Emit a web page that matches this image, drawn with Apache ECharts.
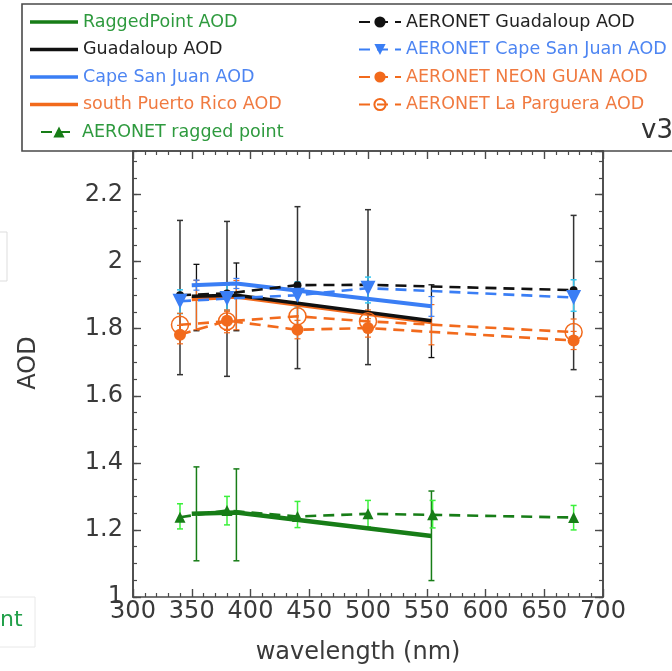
<!DOCTYPE html>
<html>
<head>
<meta charset="utf-8">
<script src="https://cdn.jsdelivr.net/npm/echarts@6/dist/echarts.min.js"></script>
<style>
  html, body { margin: 0; padding: 0; background: #fff; }
  #chart { width: 672px; height: 671px; }
</style>
</head>
<body>
<div id="chart"></div>
<script>
// wavelengths (nm)
const wlAer = [340, 380, 440, 500, 675];
const wlRagAer = [340, 380, 440, 500, 555, 675];
const wlSatLine = [350, 388, 554];
const wlSatErr = [354, 388, 554];

// satellite / model AOD (solid lines)
const raggedSat = [1.248, 1.252, 1.182];
const raggedSatLo = [1.108, 1.108, 1.049];
const raggedSatHi = [1.388, 1.382, 1.316];
const guadSat = [1.897, 1.900, 1.824];
const guadSatLo = [1.794, 1.794, 1.714];
const guadSatHi = [1.992, 1.996, 1.931];
const csjSat = [1.930, 1.935, 1.867];
const csjSatLo = [1.915, 1.920, 1.837];
const csjSatHi = [1.945, 1.950, 1.896];
const sprSat = [1.889, 1.896, 1.820];
const sprSatLo = [1.797, 1.797, 1.752];
const sprSatHi = [1.944, 1.944, 1.872];

// AERONET AOD (dashed lines)
const guadAer = [1.900, 1.905, 1.930, 1.931, 1.915];
const guadAerLo = [1.663, 1.658, 1.681, 1.693, 1.678];
const guadAerHi = [2.123, 2.120, 2.164, 2.155, 2.138];
const csjAer = [1.882, 1.890, 1.900, 1.921, 1.893];
const csjAerLo = [1.845, 1.855, 1.865, 1.877, 1.852];
const csjAerHi = [1.916, 1.930, 1.940, 1.954, 1.946];
const neonAer = [1.782, 1.824, 1.797, 1.802, 1.765];
const neonAerLo = [1.755, 1.795, 1.770, 1.775, 1.738];
const neonAerHi = [1.810, 1.852, 1.825, 1.830, 1.792];
const lpAer = [1.812, 1.822, 1.837, 1.822, 1.790];
const lpAerLo = [1.778, 1.788, 1.802, 1.788, 1.756];
const lpAerHi = [1.846, 1.856, 1.872, 1.856, 1.829];
const raggedAer = [1.238, 1.258, 1.240, 1.248, 1.245, 1.237];
const raggedAerLo = [1.203, 1.215, 1.207, 1.209, 1.206, 1.200];
const raggedAerHi = [1.278, 1.300, 1.285, 1.288, 1.288, 1.273];

const xTicks = { min: 300, max: 700, interval: 50 };
const yTicks = { min: 1, max: 2.33, interval: 0.2, minor: 0.05 };

const GREEN = '#177d17', LIME = '#3cf03c', BLACK = '#111111', BLUE = '#3a7ef5',
      CYAN = '#38c6f0', ORANGE = '#f26a1c', AXIS = '#4a4a4a', FONT = 'DejaVu Sans';

const pts = (xs, ys) => xs.map((x, i) => [x, ys[i]]);
const bars = (xs, lo, hi) => xs.map((x, i) => [x, lo[i], hi[i]]);

function errSeries(data, color, width, cap, z) {
  return {
    type: 'custom', data: data, z: z || 2, silent: true,
    encode: { x: 0, y: [1, 2] },
    renderItem: function (params, api) {
      const x = api.value(0);
      const a = api.coord([x, api.value(1)]);
      const b = api.coord([x, api.value(2)]);
      const st = { stroke: color, lineWidth: width };
      return {
        type: 'group',
        children: [
          { type: 'line', shape: { x1: a[0], y1: a[1], x2: b[0], y2: b[1] }, style: st },
          { type: 'line', shape: { x1: a[0] - cap, y1: a[1], x2: a[0] + cap, y2: a[1] }, style: st },
          { type: 'line', shape: { x1: b[0] - cap, y1: b[1], x2: b[0] + cap, y2: b[1] }, style: st }
        ]
      };
    }
  };
}

function solid(name, xs, ys, color, width, z) {
  return {
    name: name, type: 'line', data: pts(xs, ys), symbol: 'none', z: z,
    lineStyle: { color: color, width: width }, itemStyle: { color: color }
  };
}

function dashed(name, xs, ys, color, symbol, size, extra) {
  return Object.assign({
    name: name, type: 'line', data: pts(xs, ys), z: 6,
    symbol: symbol, symbolSize: size, showSymbol: true,
    lineStyle: { color: color, width: 2.6, type: [11, 7] },
    itemStyle: { color: color }
  }, extra || {});
}

const axisLine = { show: true, lineStyle: { color: AXIS, width: 1.6 } };
const label = { color: '#3a3a3a', fontSize: 24, fontFamily: FONT };

const chart = echarts.init(document.getElementById('chart'), null, { renderer: 'canvas' });
chart.setOption({
  animation: false,
  backgroundColor: '#fff',
  grid: { left: 133, right: 69, top: 151, bottom: 74 },
  xAxis: [
    {
      type: 'value', position: 'bottom', min: xTicks.min, max: xTicks.max, interval: xTicks.interval,
      name: 'wavelength (nm)', nameLocation: 'middle', nameGap: 44,
      nameTextStyle: { color: '#3a3a3a', fontSize: 24, fontFamily: FONT, padding: [0, 20, 0, 0] },
      axisLine: axisLine, splitLine: { show: false },
      axisTick: { show: true, inside: true, length: 8, lineStyle: { color: AXIS, width: 1.4 } },
      minorTick: { show: true, splitNumber: 5, length: 4, lineStyle: { color: AXIS, width: 1.2 } },
      axisLabel: Object.assign({ margin: 3 }, label)
    },
    {
      type: 'value', position: 'top', min: xTicks.min, max: xTicks.max, interval: xTicks.interval,
      axisLine: axisLine, splitLine: { show: false }, axisLabel: { show: false },
      axisTick: { show: true, inside: true, length: 8, lineStyle: { color: AXIS, width: 1.4 } },
      minorTick: { show: true, splitNumber: 5, length: 4, lineStyle: { color: AXIS, width: 1.2 } }
    }
  ],
  yAxis: [
    {
      type: 'value', position: 'left', min: yTicks.min, max: yTicks.max, interval: yTicks.interval,
      name: 'AOD', nameLocation: 'middle', nameGap: 92, nameRotate: 90,
      nameTextStyle: { color: '#3a3a3a', fontSize: 24, fontFamily: FONT, padding: [0, 0, 0, 22] },
      axisLine: axisLine, splitLine: { show: false },
      axisTick: { show: true, inside: true, length: 8, lineStyle: { color: AXIS, width: 1.4 } },
      axisLabel: Object.assign({ margin: 10, showMaxLabel: false }, label)
    },
    {
      type: 'value', position: 'left', min: yTicks.min, max: yTicks.max, interval: yTicks.minor,
      axisLine: axisLine, splitLine: { show: false }, axisLabel: { show: false },
      axisTick: { show: true, inside: true, length: 4, lineStyle: { color: AXIS, width: 1.2 } }
    },
    {
      type: 'value', position: 'right', min: yTicks.min, max: yTicks.max, interval: yTicks.interval,
      axisLine: axisLine, splitLine: { show: false }, axisLabel: { show: false },
      axisTick: { show: true, inside: true, length: 8, lineStyle: { color: AXIS, width: 1.4 } }
    },
    {
      type: 'value', position: 'right', min: yTicks.min, max: yTicks.max, interval: yTicks.minor,
      axisLine: axisLine, splitLine: { show: false }, axisLabel: { show: false },
      axisTick: { show: true, inside: true, length: 4, lineStyle: { color: AXIS, width: 1.2 } }
    }
  ],
  legend: [
    {
      left: 25, top: 8, orient: 'vertical', itemWidth: 48, itemHeight: 3.5, itemGap: 9.5,
      icon: 'rect', selectedMode: false, textStyle: { fontSize: 17.5, fontFamily: FONT },
      data: [
        { name: 'RaggedPoint AOD', textStyle: { color: '#2e9a3e' } },
        { name: 'Guadaloup AOD', textStyle: { color: '#222' } },
        { name: 'Cape San Juan AOD', textStyle: { color: '#4d85f2' } },
        { name: 'south Puerto Rico AOD', textStyle: { color: '#f07a40' } }
      ]
    },
    {
      left: 35, top: 118, orient: 'vertical', itemWidth: 36, itemHeight: 14,
      selectedMode: false, textStyle: { fontSize: 17.5, fontFamily: FONT },
      data: [{ name: 'AERONET ragged point', textStyle: { color: '#2e9a3e' } }]
    },
    {
      left: 353, top: 8, orient: 'vertical', itemWidth: 42, itemHeight: 14, itemGap: 9.5,
      selectedMode: false, textStyle: { fontSize: 17.5, fontFamily: FONT },
      data: [
        { name: 'AERONET Guadaloup AOD', textStyle: { color: '#222' } },
        { name: 'AERONET Cape San Juan AOD', textStyle: { color: '#4d85f2' } },
        { name: 'AERONET NEON GUAN AOD', textStyle: { color: '#f07a40' } },
        { name: 'AERONET La Parguera AOD', textStyle: { color: '#f07a40' } }
      ]
    }
  ],
  graphic: [
    { type: 'rect', z: -1, shape: { x: 22, y: 4, width: 700, height: 147 },
      style: { fill: '#fff', stroke: AXIS, lineWidth: 1.6 } },
    { type: 'text', left: 641, top: 118, z: 10,
      style: { text: 'v3', fill: '#333', fontSize: 26, fontFamily: FONT } },
    { type: 'rect', shape: { x: -2, y: 232, width: 9, height: 49 },
      style: { fill: '#fff', stroke: '#dddddd', lineWidth: 1 } },
    { type: 'rect', shape: { x: -2, y: 597, width: 37, height: 50 },
      style: { fill: '#fff', stroke: '#e8e8e8', lineWidth: 1 } },
    { type: 'text', left: 0, top: 609,
      style: { text: 'nt', fill: '#22a04a', fontSize: 22, fontFamily: FONT } }
  ],
  series: [
    errSeries(bars(wlSatErr, raggedSatLo, raggedSatHi), GREEN, 1.5, 3),
    errSeries(bars(wlSatErr, guadSatLo, guadSatHi), BLACK, 1.3, 3),
    errSeries(bars(wlSatErr, sprSatLo, sprSatHi), ORANGE, 1.2, 3),
    errSeries(bars(wlSatErr, csjSatLo, csjSatHi), BLUE, 1.2, 3),
    errSeries(bars(wlAer, guadAerLo, guadAerHi), '#333', 1.5, 3),
    errSeries(bars(wlAer, csjAerLo, csjAerHi), CYAN, 1.5, 3),
    errSeries(bars(wlAer, neonAerLo, neonAerHi), ORANGE, 1.2, 3),
    errSeries(bars(wlAer, lpAerLo, lpAerHi), ORANGE, 1.2, 3),
    errSeries(bars(wlRagAer, raggedAerLo, raggedAerHi), LIME, 1.5, 3),

    solid('RaggedPoint AOD', wlSatLine, raggedSat, GREEN, 4.5, 4),
    solid('south Puerto Rico AOD', wlSatLine, sprSat, ORANGE, 4.5, 4),
    solid('Guadaloup AOD', wlSatLine, guadSat, BLACK, 3.5, 5),
    solid('Cape San Juan AOD', wlSatLine, csjSat, BLUE, 4, 5),

    dashed('AERONET ragged point', wlRagAer, raggedAer, GREEN, 'triangle', 11),
    dashed('AERONET Guadaloup AOD', wlAer, guadAer, BLACK, 'circle', 8),
    dashed('AERONET Cape San Juan AOD', wlAer, csjAer, BLUE, 'triangle', 15, { symbolRotate: 180 }),
    dashed('AERONET NEON GUAN AOD', wlAer, neonAer, ORANGE, 'circle', 12),
    dashed('AERONET La Parguera AOD', wlAer, lpAer, ORANGE, 'circle', 17, {
      itemStyle: { color: 'rgba(255,255,255,0)', borderColor: ORANGE, borderWidth: 1.5 }
    })
  ]
});
</script>
</body>
</html>
